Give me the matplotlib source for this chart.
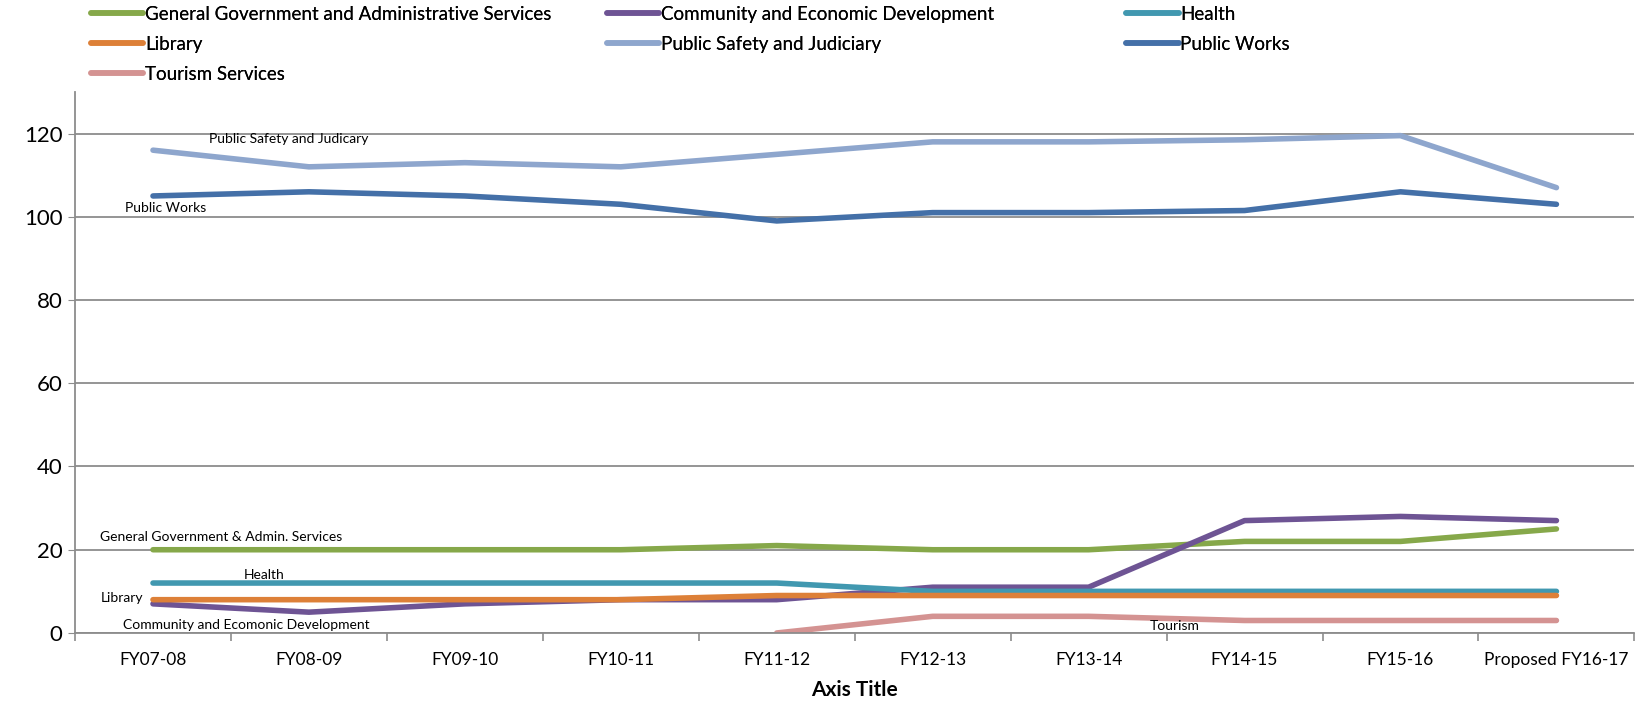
import matplotlib

matplotlib.use("Agg")
import matplotlib.pyplot as plt
import numpy as np

plt.rcParams["font.family"] = ["Lato", "DejaVu Sans"]

years = ["FY07-08", "FY08-09", "FY09-10", "FY10-11", "FY11-12",
         "FY12-13", "FY13-14", "FY14-15", "FY15-16", "Proposed FY16-17"]

gen_gov = [20, 20, 20, 20, 21, 20, 20, 22, 22, 25]
community = [7, 5, 7, 8, 8, 11, 11, 27, 28, 27]
health = [12, 12, 12, 12, 12, 10, 10, 10, 10, 10]
library = [8, 8, 8, 8, 9, 9, 9, 9, 9, 9]
public_safety = [116, 112, 113, 112, 115, 118, 118, 118.5, 119.5, 107]
public_works = [105, 106, 105, 103, 99, 101, 101, 101.5, 106, 103]
tourism = [np.nan, np.nan, np.nan, np.nan, 0, 4, 4, 3, 3, 3]

series = [
    ("General Government and Administrative Services", gen_gov, "#86a84a"),
    ("Community and Economic Development", community, "#6e5494"),
    ("Health", health, "#4198b0"),
    ("Library", library, "#dd8038"),
    ("Public Safety and Judiciary", public_safety, "#8ea6cd"),
    ("Public Works", public_works, "#4470a8"),
    ("Tourism Services", tourism, "#d49392"),
]

# in-plot series labels (text, x, y)
inline_labels = [
    ("Public Safety and Judicary", 0.87, 118.8),
    ("Public Works", 0.08, 102.2),
    ("General Government & Admin. Services", 0.44, 23.1),
    ("Health", 0.71, 14.0),
    ("Library", -0.2, 8.3),
    ("Community and Ecomonic Development", 0.6, 2.0),
    ("Tourism", 6.55, 1.75),
]

fig = plt.figure(figsize=(16.38, 7.07), dpi=100)
ax = fig.add_axes([0.0458, 0.1047, 0.952, 0.7653])

x = np.arange(len(years))
handles = {}
for name, vals, color in series:
    (ln,) = ax.plot(x, vals, color=color, lw=4.0, solid_capstyle="round",
                    solid_joinstyle="round", label=name)
    handles[name] = ln

for text, tx, ty in inline_labels:
    ax.text(tx, ty, text, ha="center", va="center", fontsize=10, color="black")

ax.set_xlim(-0.5, len(years) - 0.5)
ax.set_ylim(0, 130)
ax.set_yticks(range(0, 121, 20))
ax.yaxis.grid(True, color="#8c8c8c", lw=1.3)
ax.set_axisbelow(True)
ax.tick_params(axis="y", labelsize=16, length=5, color="#8c8c8c", pad=4)

ax.set_xticks(np.arange(-0.5, len(years)), minor=False)
ax.set_xticklabels([])
ax.set_xticks(x, minor=True)
ax.set_xticklabels(years, minor=True)
ax.tick_params(axis="x", which="major", length=6, color="#8c8c8c", width=1.2)
ax.tick_params(axis="x", which="minor", length=0, labelsize=12.5, pad=14)
ax.set_xlabel("Axis Title", fontsize=15, fontweight="bold", labelpad=8)

for side in ("top", "right"):
    ax.spines[side].set_visible(False)
for side in ("left", "bottom"):
    ax.spines[side].set_color("#8c8c8c")
    ax.spines[side].set_linewidth(1.3)

# legend laid out as three columns anchored at fixed positions
columns = [
    (0.0555, ["General Government and Administrative Services", "Library", "Tourism Services"]),
    (0.3705, ["Community and Economic Development", "Public Safety and Judiciary"]),
    (0.6875, ["Health", "Public Works"]),
]
for xpos, names in columns:
    leg = fig.legend([handles[n] for n in names], names, loc="upper left",
                     bbox_to_anchor=(xpos, 0.992), frameon=False, fontsize=13.5,
                     handlelength=2.8, handletextpad=0.1, labelspacing=0.7,
                     borderaxespad=0, borderpad=0)
    fig.add_artist(leg)

fig.savefig("out.png", dpi=100)
